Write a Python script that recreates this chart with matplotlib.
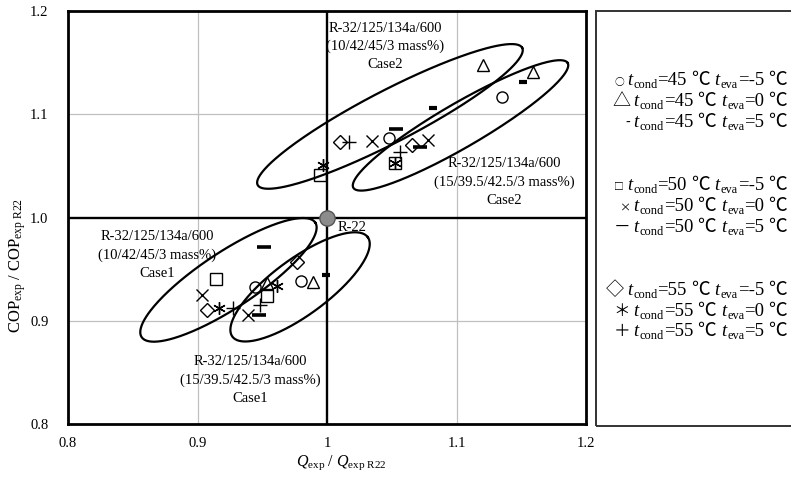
import numpy as np
import matplotlib
matplotlib.use("Agg")
from matplotlib import pyplot as plt
from matplotlib import transforms as mtransforms
from matplotlib.patches import Rectangle

plt.rcParams['font.family'] = ['Liberation Serif', 'Noto Sans CJK JP', 'DejaVu Sans']
plt.rcParams['mathtext.fontset'] = 'custom'
plt.rcParams['mathtext.rm'] = 'Liberation Serif'
plt.rcParams['mathtext.it'] = 'Liberation Serif:italic'

# ---- data (Q ratio, COP ratio) per condition ----
c45_m5_x = [0.9444, 0.9797, 1.0481, 1.1349]
c45_m5_y = [0.9328, 0.9389, 1.0768, 1.1170]
c45_0_x = [0.9534, 0.9890, 1.1207, 1.1593]
c45_0_y = [0.9367, 0.9380, 1.1477, 1.1412]
c45_5_x = [0.9992, 1.0816, 1.1511]
c45_5_y = [0.9444, 1.1058, 1.1316]
c50_m5_x = [0.9143, 0.9537, 0.9946, 1.0525]
c50_m5_y = [0.9406, 0.9241, 1.0412, 1.0529]
c50_0_x = [0.9035, 0.9390, 1.0345, 1.0782]
c50_0_y = [0.9251, 0.9057, 1.0744, 1.0751]
c50_5_x = [0.9514, 0.9475, 1.0533, 1.0718]
c50_5_y = [0.9715, 0.9057, 1.0858, 1.0686]
c55_m5_x = [0.9073, 0.9768, 1.0100, 1.0654]
c55_m5_y = [0.9106, 0.9570, 1.0735, 1.0703]
c55_0_x = [0.9166, 0.9614, 0.9967, 1.0525]
c55_0_y = [0.9125, 0.9338, 1.0509, 1.0529]
c55_5_x = [0.9274, 0.9483, 1.0172, 1.0564]
c55_5_y = [0.9125, 0.9154, 1.0735, 1.0638]

r22_x, r22_y = 1.0, 1.0

# ellipses: centre (data), semi axes (px), angle (deg on screen)
ellipses = [
    (1.0486, 1.0979, 149, 26, 27.4),
    (1.1031, 1.0892, 124, 22, 30.2),
    (0.9239, 0.9396, 104, 28, 33.4),
    (0.9792, 0.9328, 84, 28, 36.3),
]

labels = [
    (1.0448, 1.1656, "R-32/125/134a/600\n(10/42/45/3 mass%)\nCase2"),
    (1.1367, 1.0345, "R-32/125/134a/600\n(15/39.5/42.5/3 mass%)\nCase2"),
    (0.8687, 0.9638, "R-32/125/134a/600\n(10/42/45/3 mass%)\nCase1"),
    (0.9405, 0.8428, "R-32/125/134a/600\n(15/39.5/42.5/3 mass%)\nCase1"),
]

xticks = [0.8, 0.9, 1.0, 1.1, 1.2]
xticklabels = ["0.8", "0.9", "1", "1.1", "1.2"]
yticks = [0.8, 0.9, 1.0, 1.1, 1.2]
yticklabels = ["0.8", "0.9", "1.0", "1.1", "1.2"]

W, H = 791, 486
fig = plt.figure(figsize=(W / 100, H / 100), dpi=100)
ax = fig.add_axes([68 / W, 62 / H, 518 / W, 413 / H])
ax.set_xlim(0.8, 1.2)
ax.set_ylim(0.8, 1.2)

for v in [0.9, 1.1]:
    ax.axvline(v, color='#c0c0c0', lw=0.9, zorder=0)
    ax.axhline(v, color='#c0c0c0', lw=0.9, zorder=0)
ax.axvline(1.0, color='black', lw=1.7, zorder=1)
ax.axhline(1.0, color='black', lw=1.7, zorder=1)

for s in ax.spines.values():
    s.set_linewidth(2.0)
ax.set_xticks(xticks)
ax.set_xticklabels(xticklabels)
ax.set_yticks(yticks)
ax.set_yticklabels(yticklabels)
ax.tick_params(length=0, labelsize=10.5)
ax.tick_params(axis='x', pad=9)
ax.tick_params(axis='y', pad=14)

# ellipses drawn from screen-sized axes
sx = 518 / 0.4
sy = 413 / 0.4
t = np.linspace(0, 2 * np.pi, 300)
for cx, cy, a, b, ang in ellipses:
    th = np.radians(ang)
    dx = a * np.cos(t) * np.cos(th) - b * np.sin(t) * np.sin(th)
    dy = a * np.cos(t) * np.sin(th) + b * np.sin(t) * np.cos(th)
    ax.plot(cx + dx / sx, cy + dy / sy, color='black', lw=1.6, zorder=3)

mk = dict(ls='none', color='black', mfc='none', zorder=4)
ax.plot(c45_m5_x, c45_m5_y, marker='o', ms=8, mew=1.0, **mk)
ax.plot(c45_0_x, c45_0_y, marker='^', ms=9, mew=1.0, **mk)
ax.plot(c45_5_x, c45_5_y, marker='_', ms=6, mew=3.0, **mk)
ax.plot(c50_m5_x, c50_m5_y, marker='s', ms=8, mew=1.0, **mk)
ax.plot(c50_0_x, c50_0_y, marker='x', ms=8, mew=1.0, **mk)
ax.plot(c50_5_x, c50_5_y, marker='_', ms=10, mew=2.6, **mk)
ax.plot(c55_m5_x, c55_m5_y, marker='D', ms=7, mew=1.0, **mk)
ax.plot(c55_0_x, c55_0_y, marker=(6, 2, 0), ms=9, mew=1.0, **mk)
ax.plot(c55_5_x, c55_5_y, marker='+', ms=10, mew=1.0, **mk)

ax.plot([r22_x], [r22_y], marker='o', ms=11, mfc='#8c8c8c', mec='#555555',
        mew=1.0, ls='none', zorder=6, clip_on=False)
ax.text(1.0085, 0.9899, "R-22", fontsize=10.5, ha='left', va='center', zorder=5)

for x, y, s in labels:
    ax.text(x, y, s, fontsize=10.5, ha='center', va='center',
            linespacing=1.5, zorder=5)

ident = mtransforms.IdentityTransform()
fig.text(341, H - 463, r'$Q_{\mathrm{exp}}\ /\ Q_{\mathrm{exp\ R22}}$',
         fontsize=11.5, ha='center', va='center', transform=ident)
fig.text(18, H - 265, r'$\mathrm{COP}_{\mathrm{exp}}\ /\ \mathrm{COP}_{\mathrm{exp\ R22}}$',
         fontsize=12, ha='center', va='center', rotation=90, transform=ident)

# ---- legend box (text rows) ----
fig.patches.append(Rectangle((596, H - 426), 220, 415, transform=ident,
                             fill=False, lw=1.4, edgecolor='#333333'))

conds = [
    ("○", 7, "45", "-5"), ("△", 13, "45", "0"), ("-", 10, "45", "5"),
    ("□", 7, "50", "-5"), ("×", 8, "50", "0"), ("－", 12, "50", "5"),
    ("◇", 13, "55", "-5"), ("＊", 12, "55", "0"), ("＋", 12, "55", "5"),
]
row_y = [80, 101, 122, 185, 206, 227, 290, 311, 331]

fig.canvas.draw()
renderer = fig.canvas.get_renderer()
fs = 13.5
sym_family = ['Noto Sans CJK JP', 'DejaVu Sans']
serif = ['Liberation Serif']
for (sym, ssz, tc, te), yy in zip(conds, row_y):
    pieces = [
        (sym, dict(fontsize=ssz, family=sym_family), 0, 3),
        ("t", dict(fontsize=fs, style='italic', family=serif), 0, 1),
        ("cond", dict(fontsize=fs * 0.66, family=serif), -3, 0),
        ("=" + tc, dict(fontsize=fs, family=serif), 0, 4),
        ("℃", dict(fontsize=fs, family=sym_family), 0, 5),
        ("t", dict(fontsize=fs, style='italic', family=serif), 0, 1),
        ("eva", dict(fontsize=fs * 0.66, family=serif), -3, 0),
        ("=" + te, dict(fontsize=fs, family=serif), 0, 4),
        ("℃", dict(fontsize=fs, family=sym_family), 0, 0),
    ]
    objs = []
    for txt, kw, dyp, gap in pieces:
        o = fig.text(0, 0, txt, transform=ident, ha='left', va='baseline', **kw)
        w = o.get_window_extent(renderer).width
        objs.append((o, w, dyp, gap))
    total = sum(w + g for _, w, _, g in objs)
    x = 787 - total
    base = H - yy - 5
    for o, w, dyp, gap in objs:
        o.set_position((x, base + dyp))
        x += w + gap

fig.savefig("out.png", dpi=100)
